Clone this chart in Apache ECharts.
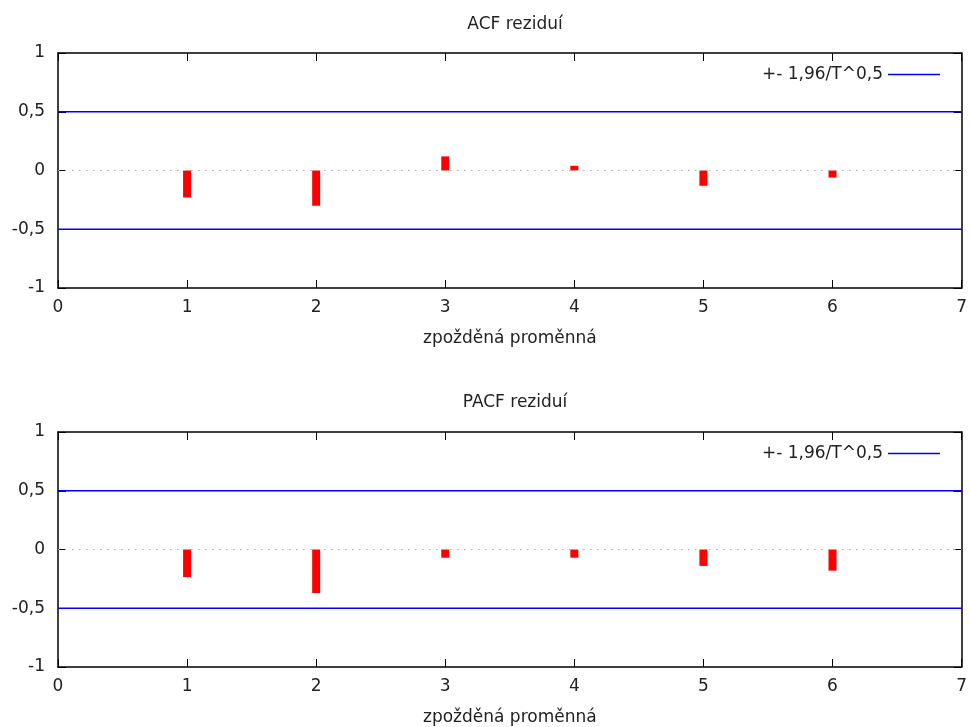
<!DOCTYPE html>
<html>
<head>
<meta charset="utf-8">
<script src="https://cdn.jsdelivr.net/npm/echarts@6/dist/echarts.min.js"></script>
<style>
html, body { margin: 0; padding: 0; background: #fff; }
#main { width: 970px; height: 727px; }
</style>
</head>
<body>
<div id="main"></div>
<script>
var lags = [1, 2, 3, 4, 5, 6];
var acfValues = [-0.23, -0.30, 0.12, 0.04, -0.13, -0.06];
var pacfValues = [-0.235, -0.37, -0.07, -0.07, -0.14, -0.18];
var bandLimit = 0.5;
var titles = ['ACF reziduí', 'PACF reziduí'];
var xName = 'zpožděná proměnná';
var legendName = '+- 1,96/T^0,5';

var myChart = echarts.init(document.getElementById('main'));
var font = 'DejaVu Sans';
var fs = 17;

function pairs(vals) {
	return lags.map(function (l, i) { return [l, vals[i]]; });
}

function xAxisFor(gi, pos) {
	return {
		type: 'value', gridIndex: gi, position: pos,
		min: 0, max: 7, interval: 1,
		name: pos === 'bottom' ? xName : '',
		nameLocation: 'middle', nameGap: 42,
		nameTextStyle: { color: '#222', fontFamily: font, fontSize: fs },
		axisLine: { show: true, onZero: false, lineStyle: { color: '#000', width: 1.5 } },
		axisTick: { show: true, inside: true, length: 8, lineStyle: { color: '#000' } },
		axisLabel: { show: pos === 'bottom', margin: 11, color: '#222', fontFamily: font, fontSize: fs },
		splitLine: { show: false }
	};
}

function yAxisFor(gi, pos) {
	return {
		type: 'value', gridIndex: gi, position: pos,
		min: -1, max: 1, interval: 0.5,
		axisLine: { show: true, onZero: false, lineStyle: { color: '#000', width: 1.5 } },
		axisTick: { show: true, inside: true, length: 8, lineStyle: { color: '#000' } },
		axisLabel: {
			show: pos === 'left', margin: 13, color: '#222', fontFamily: font, fontSize: fs,
			formatter: function (v) { return String(v).replace('.', ','); }
		},
		splitLine: { show: false }
	};
}

var grids = [
	{ left: 58, right: 8, top: 53, height: 235 },
	{ left: 58, right: 8, top: 432, height: 235 }
];

var xAxes = [], yAxes = [], series = [];
[acfValues, pacfValues].forEach(function (vals, gi) {
	xAxes.push(xAxisFor(gi, 'bottom'));
	xAxes.push(xAxisFor(gi, 'top'));
	yAxes.push(yAxisFor(gi, 'left'));
	yAxes.push(yAxisFor(gi, 'right'));
	var xi = gi * 2, yi = gi * 2;
	series.push({
		type: 'line', xAxisIndex: xi, yAxisIndex: yi,
		symbol: 'none', silent: true,
		lineStyle: { color: '#aaa', width: 1.2, type: [1.5, 5.5] },
		data: [[0, 0], [7, 0]]
	});
	series.push({
		type: 'bar', xAxisIndex: xi, yAxisIndex: yi,
		barWidth: 8, itemStyle: { color: '#ff0000' },
		data: pairs(vals)
	});
	[bandLimit, -bandLimit].forEach(function (b) {
		series.push({
			name: legendName,
			type: 'line', xAxisIndex: xi, yAxisIndex: yi,
			symbol: 'none',
			itemStyle: { color: '#0000ff' },
			lineStyle: { color: '#0000ff', width: 1.5 },
			data: [[0, b], [7, b]]
		});
	});
});

var option = {
	backgroundColor: '#fff',
	animation: false,
	title: titles.map(function (t, i) {
		return {
			text: t, left: 510, textAlign: 'center', top: i === 0 ? 11 : 389,
			textStyle: { color: '#222', fontFamily: font, fontSize: fs, fontWeight: 'normal' }
		};
	}),
	legend: [61, 440].map(function (top) {
		return {
			data: [legendName], right: 25, top: top, align: 'right',
			icon: 'rect', itemWidth: 52, itemHeight: 1.5, itemGap: 12,
			textStyle: { color: '#222', fontFamily: font, fontSize: fs }
		};
	}),
	grid: grids,
	xAxis: xAxes,
	yAxis: yAxes,
	series: series
};

myChart.setOption(option);
</script>
</body>
</html>
